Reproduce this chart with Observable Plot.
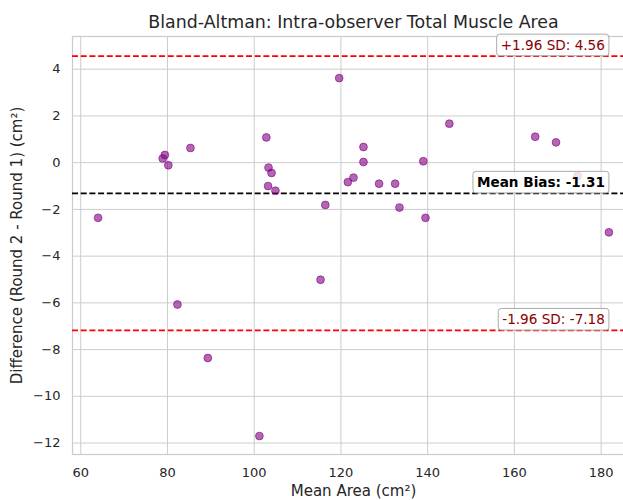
<!DOCTYPE html>
<html>
<head>
<meta charset="utf-8">
<script src="https://cdn.jsdelivr.net/npm/d3@7"></script>
<script src="https://cdn.jsdelivr.net/npm/@observablehq/plot@0.6"></script>
<style>
  body { margin: 0; background: white; }
</style>
</head>
<body>
<script>
const titleText = "Bland-Altman: Intra-observer Total Muscle Area";
const xLabel = "Mean Area (cm²)";
const yLabel = "Difference (Round 2 - Round 1) (cm²)";

const means = [64.0, 78.9, 79.4, 80.2, 82.3, 85.3, 89.3, 101.2, 102.8, 103.2, 103.3, 104.0, 104.9, 115.3, 116.4, 119.6, 121.6, 122.9, 125.2, 125.2, 128.8, 132.5, 133.5, 139.0, 139.5, 145.0, 164.8, 169.6, 174.6, 181.8];
const diffs = [-2.36, 0.18, 0.33, -0.11, -6.07, 0.63, -8.36, -11.70, 1.08, -1.00, -0.21, -0.44, -1.20, -5.01, -1.81, 3.62, -0.83, -0.64, 0.67, 0.03, -0.90, -0.90, -1.92, 0.06, -2.36, 1.67, 1.11, 0.87, -0.56, -2.98];

const upperLoA = 4.56;
const meanBias = -1.31;
const lowerLoA = -7.18;

const xTicks = [60, 80, 100, 120, 140, 160, 180];
const yTicks = [-12, -10, -8, -6, -4, -2, 0, 2, 4];

const points = means.map((m, i) => ({mean: m, diff: diffs[i]}));
const xMax = d3.max(means);

const upperText = `+1.96 SD: ${upperLoA.toFixed(2)}`;
const biasText = `Mean Bias: ${meanBias.toFixed(2)}`;
const lowerText = `-1.96 SD: ${lowerLoA.toFixed(2)}`;

const fmt = d3.format("d");

const plot = Plot.plot({
  width: 623,
  height: 500,
  marginLeft: 72,
  marginRight: -11,
  marginTop: 36,
  marginBottom: 46,
  style: {fontFamily: "DejaVu Sans", fontSize: "13px", color: "#262626", background: "white", overflow: "hidden"},
  x: {domain: [58.1, 187.7], ticks: xTicks, tickSize: 0, tickPadding: 13, label: null, tickFormat: fmt},
  y: {domain: [-12.49, 5.40], ticks: yTicks, tickSize: 0, tickPadding: 12, label: null, tickFormat: fmt},
  marks: [
    Plot.ruleX(xTicks, {x: d => d, stroke: "#cccccc", strokeWidth: 1}),
    Plot.ruleY(yTicks, {y: d => d, stroke: "#cccccc", strokeWidth: 1}),
    Plot.frame({stroke: "#cccccc", strokeWidth: 1.25}),
    Plot.ruleY([upperLoA, lowerLoA], {y: d => d, stroke: "red", strokeWidth: 1.8, strokeDasharray: "6,2.7"}),
    Plot.ruleY([meanBias], {y: d => d, stroke: "black", strokeWidth: 1.8, strokeDasharray: "6,2.7"}),
    Plot.dot(points, {x: "mean", y: "diff", r: 3.9, fill: "purple", fillOpacity: 0.6, stroke: "purple", strokeOpacity: 0.6, strokeWidth: 1}),
    Plot.text([{y: upperLoA, t: upperText}, {y: lowerLoA, t: lowerText}], {x: () => xMax, y: "y", text: "t", textAnchor: "end", lineAnchor: "middle", dx: -4, dy: -10.5, fill: "#8b0000", fontSize: 13.6}),
    Plot.text([{y: meanBias, t: biasText}], {x: () => xMax, y: "y", text: "t", textAnchor: "end", lineAnchor: "middle", dx: -4, dy: -10.5, fill: "black", fontSize: 13.6, fontWeight: "bold"}),
    Plot.text([titleText], {frameAnchor: "top", text: d => d, dy: -14, lineAnchor: "middle", fontSize: 17.4, fill: "#262626"}),
    Plot.text([xLabel], {frameAnchor: "bottom", text: d => d, dy: 37, lineAnchor: "middle", fontSize: 15, fill: "#262626"}),
    Plot.text([yLabel], {frameAnchor: "left", text: d => d, dx: -55, rotate: -90, textAnchor: "middle", lineAnchor: "middle", fontSize: 15, fill: "#262626"})
  ]
});

document.body.append(plot);

const boxed = new Set([upperText, biasText, lowerText]);
plot.querySelectorAll("text").forEach(t => {
  if (!boxed.has(t.textContent)) return;
  const b = t.getBBox();
  const r = document.createElementNS("http://www.w3.org/2000/svg", "rect");
  r.setAttribute("x", b.x - 4);
  r.setAttribute("y", b.y - 2.8);
  r.setAttribute("width", b.width + 8);
  r.setAttribute("height", b.height + 5.6);
  r.setAttribute("rx", 3);
  r.setAttribute("fill", "white");
  r.setAttribute("fill-opacity", 0.8);
  r.setAttribute("stroke", "#aaaaaa");
  r.setAttribute("stroke-width", 1);
  const tr = t.getAttribute("transform");
  if (tr) r.setAttribute("transform", tr);
  t.parentNode.insertBefore(r, t);
});
</script>
</body>
</html>
